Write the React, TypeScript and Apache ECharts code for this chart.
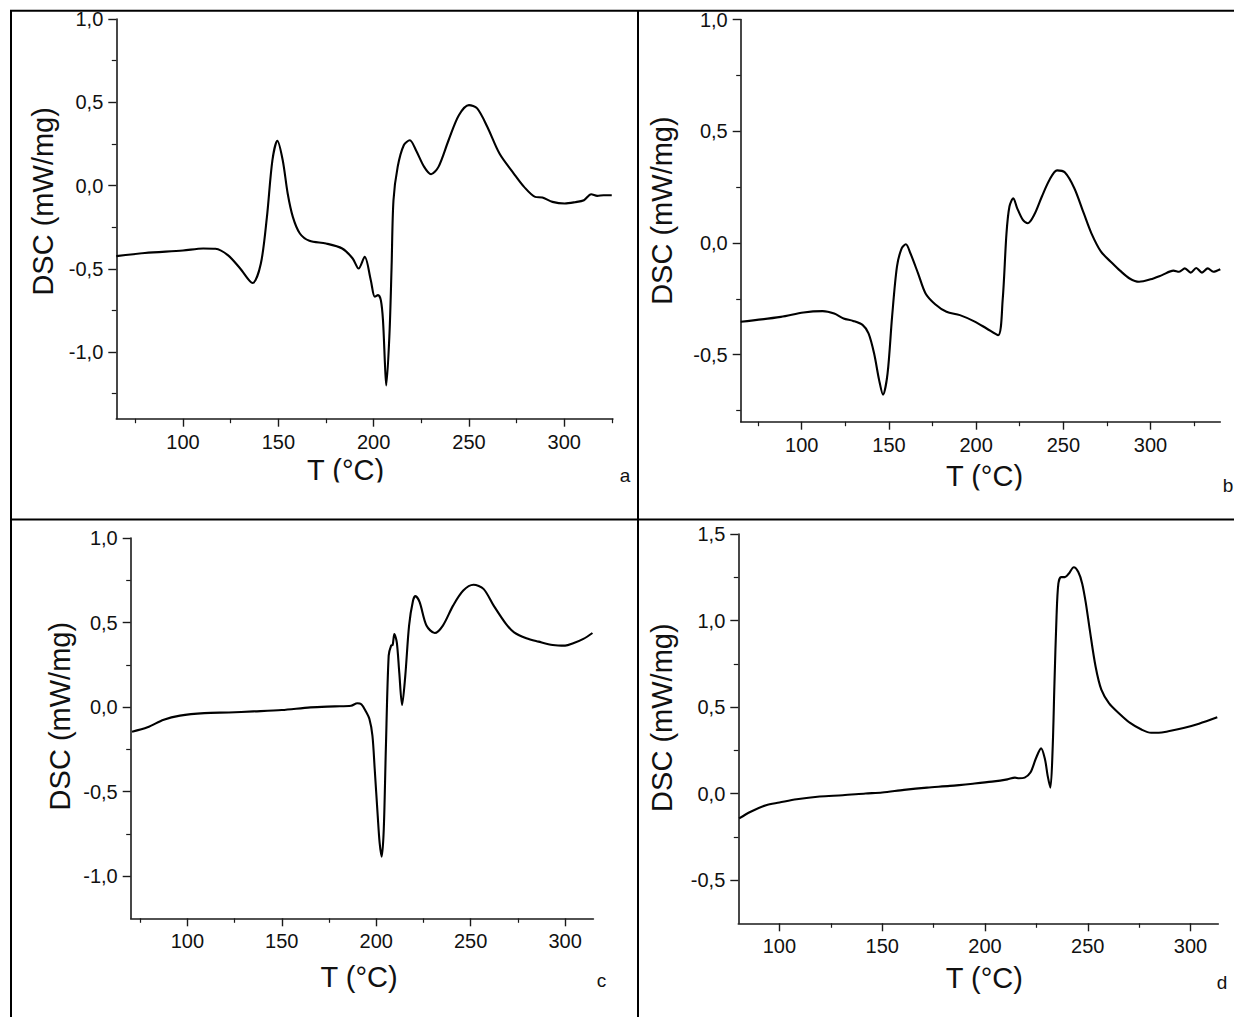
import React, { useEffect, useRef } from "react";
import * as echarts from "echarts";

// ---------- data ----------
const aT = [65, 80, 100, 110.6, 117, 123.5, 130, 136.5, 140.8, 144, 146.9, 149.5, 152.3, 154.9, 157.6, 161.3, 166.3, 175, 183.5, 189, 192.1, 195.3, 198.5, 200.6, 202.3, 203.8, 204.9, 206, 206.6, 208.3, 209.4, 210.4, 212.6, 215.8, 219, 222.2, 226.5, 230.1, 234, 239.3, 244.7, 250, 254.3, 259.6, 266, 273.5, 278.9, 284.7, 288.5, 293.8, 300.2, 305.6, 310.3, 314.1, 317.3, 320.6, 324.9];
const aDSC = [-0.424, -0.405, -0.39, -0.378, -0.38, -0.418, -0.498, -0.585, -0.47, -0.19, 0.152, 0.268, 0.152, -0.048, -0.188, -0.288, -0.332, -0.348, -0.378, -0.438, -0.498, -0.428, -0.568, -0.668, -0.658, -0.69, -0.81, -1.09, -1.2, -0.89, -0.49, -0.088, 0.112, 0.242, 0.272, 0.212, 0.112, 0.068, 0.112, 0.272, 0.422, 0.483, 0.463, 0.353, 0.192, 0.072, -0.008, -0.068, -0.072, -0.098, -0.108, -0.1, -0.088, -0.052, -0.062, -0.058, -0.058];

const bT = [65, 88, 101, 112, 118.6, 124, 129.5, 135, 138.3, 141.5, 144.4, 146.6, 149.2, 151.8, 154.6, 157.3, 159.7, 162.3, 166.7, 171, 176.5, 183, 190.7, 199.5, 206, 212.6, 215.2, 217.4, 219.1, 221.3, 223.5, 226.8, 229.6, 233.3, 237.7, 242.1, 246.4, 250.8, 256.3, 261.7, 266.1, 271.6, 278.1, 282.5, 288, 293.4, 300, 306.6, 313.1, 316.4, 319.7, 323, 326.2, 329.5, 332.8, 336, 340];
const bDSC = [-0.353, -0.331, -0.311, -0.305, -0.316, -0.338, -0.349, -0.368, -0.405, -0.495, -0.615, -0.679, -0.585, -0.331, -0.106, -0.024, -0.006, -0.046, -0.136, -0.226, -0.274, -0.308, -0.323, -0.353, -0.383, -0.413, -0.256, 0.043, 0.163, 0.2, 0.156, 0.103, 0.088, 0.126, 0.208, 0.283, 0.325, 0.316, 0.245, 0.133, 0.043, -0.039, -0.091, -0.124, -0.159, -0.174, -0.163, -0.144, -0.124, -0.129, -0.114, -0.133, -0.112, -0.133, -0.114, -0.129, -0.118];

const cT = [70.7, 78.9, 87.5, 96.1, 109, 122, 135, 150, 165.2, 178.1, 186.7, 190, 192.1, 194.3, 196.4, 198, 199.2, 200.8, 201.8, 202.9, 204, 205.1, 206.6, 207.9, 208.7, 209.6, 210.9, 212.2, 213.7, 215.4, 217.4, 219.5, 220.8, 223, 226.6, 231, 235.3, 240.7, 246.1, 251.5, 256.8, 262.2, 268.7, 273, 279.5, 286, 293.5, 300, 304.3, 309.7, 314.5];
const cDSC = [-0.146, -0.12, -0.075, -0.051, -0.036, -0.032, -0.026, -0.018, -0.002, 0.004, 0.008, 0.022, 0.016, -0.022, -0.071, -0.17, -0.367, -0.644, -0.802, -0.885, -0.723, -0.249, 0.304, 0.363, 0.367, 0.432, 0.383, 0.205, 0.012, 0.186, 0.482, 0.63, 0.656, 0.62, 0.482, 0.438, 0.482, 0.6, 0.689, 0.723, 0.699, 0.6, 0.492, 0.442, 0.407, 0.387, 0.367, 0.363, 0.377, 0.403, 0.438];

const dT = [80.4, 86, 93.5, 100, 108.4, 119.6, 130.8, 141.9, 150, 160.6, 171.8, 182.9, 194.1, 203.4, 210.9, 214.6, 216.5, 219.3, 222.1, 224.9, 227.3, 229.2, 230.5, 231.8, 232.9, 233.8, 234.8, 235.7, 237, 238.9, 240.7, 243.2, 245.4, 247.3, 249.1, 251, 253.8, 256.6, 260.3, 265, 270.6, 276.1, 280.8, 284.5, 289.2, 296.6, 304.1, 313];
const dDSC = [-0.144, -0.105, -0.067, -0.052, -0.033, -0.017, -0.01, 0.0, 0.006, 0.021, 0.034, 0.044, 0.057, 0.069, 0.082, 0.092, 0.088, 0.092, 0.121, 0.207, 0.261, 0.197, 0.102, 0.034, 0.255, 0.638, 1.021, 1.213, 1.251, 1.251, 1.27, 1.308, 1.28, 1.213, 1.098, 0.944, 0.734, 0.6, 0.523, 0.466, 0.408, 0.37, 0.351, 0.351, 0.36, 0.379, 0.404, 0.441];

const xTicks = [100, 150, 200, 250, 300];
const yTicksA = [-1, -0.5, 0, 0.5, 1];
const yTicksB = [-0.5, 0, 0.5, 1];
const yTicksC = [-1, -0.5, 0, 0.5, 1];
const yTicksD = [-0.5, 0, 0.5, 1, 1.5];

const xRanges = [[65, 325.5], [65, 340], [70, 315], [80, 313.5]];
const yRanges = [[-1.4, 1.0], [-0.8, 1.0], [-1.25, 1.0], [-0.75, 1.5]];
const panelLetters = ["a", "b", "c", "d"];
const xTitle = "T (°C)";
const yTitle = "DSC (mW/mg)";

// ---------- layout / style ----------
const FONT = "'Liberation Sans', Arial, Helvetica, sans-serif";
const INK = "#111";

const layouts = [
  { left: 116.3, top: 19, width: 496.6, height: 399.7, xGap: 36.5, xPad: [0, 38, 0, 0], yGap: 59, yPad: [0, 0, 0, 35], letter: [625, 475.5] },
  { left: 740.7, top: 19.5, width: 479.6, height: 402.2, xGap: 39.5, xPad: [0, 0, 0, 8], yGap: 64, yPad: [0, 0, 0, 20], letter: [1228, 485] },
  { left: 130.7, top: 538, width: 462.7, height: 380.3, xGap: 44, xPad: [0, 6, 0, 0], yGap: 56, yPad: [0, 0, 0, 24], letter: [601.5, 980.5] },
  { left: 738.3, top: 534, width: 480, height: 389.3, xGap: 40, xPad: [0, 0, 0, 12], yGap: 62, yPad: [0, 0, 0, 22], letter: [1222, 982] },
];

const fmtComma = (v: number) => {
  if (Math.abs(v) < 1e-9) return "0,0";
  return v.toFixed(1).replace(".", ",");
};

const zip = (xs: number[], ys: number[]) => xs.map((x, i) => [x, ys[i]]);

export default function App() {
  const ref = useRef<HTMLDivElement>(null);

  useEffect(() => {
    if (!ref.current) return;
    const chart = echarts.init(ref.current, null, { renderer: "svg" });

    const seriesData = [zip(aT, aDSC), zip(bT, bDSC), zip(cT, cDSC), zip(dT, dDSC)];
    const yTickSets = [yTicksA, yTicksB, yTicksC, yTicksD];

    const axisLineStyle = { color: "#1a1a1a", width: 1.6 };
    const tickStyle = { color: "#1a1a1a", width: 1.4 };

    const grids = layouts.map((l) => ({
      left: l.left,
      top: l.top,
      width: l.width,
      height: l.height,
      containLabel: false,
    }));

    const xAxes = layouts.map((l, i) => ({
      type: "value",
      gridIndex: i,
      min: xRanges[i][0],
      max: xRanges[i][1],
      minInterval: 50,
      maxInterval: 50,
      axisLine: { show: true, onZero: false, lineStyle: axisLineStyle },
      axisTick: { show: true, customValues: xTicks, length: 8, lineStyle: tickStyle },
      minorTick: { show: true, splitNumber: 2, length: 4.5, lineStyle: { color: "#1a1a1a", width: 1.2 } },
      axisLabel: {
        customValues: xTicks,
        margin: 13,
        fontSize: 20,
        color: INK,
        fontFamily: FONT,
        formatter: (v: number) => String(v),
      },
      splitLine: { show: false },
      name: xTitle,
      nameLocation: "middle",
      nameGap: l.xGap,
      nameTextStyle: { fontSize: 29, lineHeight: 29, color: INK, fontFamily: FONT, padding: l.xPad },
    }));

    const yAxes = layouts.map((l, i) => ({
      type: "value",
      gridIndex: i,
      min: yRanges[i][0],
      max: yRanges[i][1],
      minInterval: 0.5,
      maxInterval: 0.5,
      axisLine: { show: true, onZero: false, lineStyle: axisLineStyle },
      axisTick: { show: true, customValues: yTickSets[i], length: 8, lineStyle: tickStyle },
      minorTick: { show: true, splitNumber: 2, length: 4.5, lineStyle: { color: "#1a1a1a", width: 1.2 } },
      axisLabel: {
        customValues: yTickSets[i],
        margin: 13,
        fontSize: 20,
        color: INK,
        fontFamily: FONT,
        formatter: fmtComma,
      },
      splitLine: { show: false },
      name: yTitle,
      nameLocation: "middle",
      nameGap: l.yGap,
      nameTextStyle: { fontSize: 29, lineHeight: 29, color: INK, fontFamily: FONT, padding: l.yPad },
    }));

    const series = seriesData.map((d, i) => ({
      type: "line",
      xAxisIndex: i,
      yAxisIndex: i,
      data: d,
      showSymbol: false,
      smooth: 0.3,
      lineStyle: { color: "#000", width: 2.1 },
      clip: true,
      silent: true,
    }));

    const border = { stroke: "#000", lineWidth: 2 };
    const graphic: any[] = [
      { type: "line", shape: { x1: 10, y1: 10.7, x2: 1234, y2: 10.7 }, style: border, z: 50 },
      { type: "line", shape: { x1: 11, y1: 10, x2: 11, y2: 1017 }, style: border, z: 50 },
      { type: "line", shape: { x1: 638, y1: 10, x2: 638, y2: 1017 }, style: border, z: 50 },
      { type: "line", shape: { x1: 10, y1: 519.5, x2: 1234, y2: 519.5 }, style: border, z: 50 },
      // crop of the original figure images just under the x titles of a and b
      { type: "rect", shape: { x: 280, y: 482.5, width: 130, height: 35 }, style: { fill: "#fff" }, z: 40 },
      { type: "rect", shape: { x: 920, y: 490.5, width: 130, height: 27 }, style: { fill: "#fff" }, z: 40 },
    ];
    layouts.forEach((l, i) => {
      graphic.push({
        type: "text",
        x: l.letter[0],
        y: l.letter[1],
        z: 60,
        style: {
          text: panelLetters[i],
          fontSize: 19,
          fontFamily: FONT,
          fill: INK,
          textAlign: "center",
          textVerticalAlign: "middle",
        },
      });
    });

    chart.setOption({
      animation: false,
      backgroundColor: "#fff",
      grid: grids,
      xAxis: xAxes,
      yAxis: yAxes,
      series,
      graphic,
    });

    return () => chart.dispose();
  }, []);

  return (
    <div
      ref={ref}
      style={{ position: "absolute", left: 0, top: 0, width: 1234, height: 1017, background: "#fff" }}
    />
  );
}
